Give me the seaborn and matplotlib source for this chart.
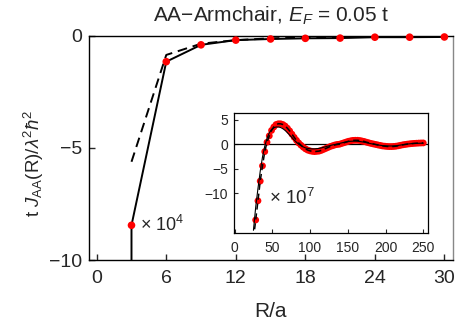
import numpy as np
import pandas as pd
import matplotlib
matplotlib.use("Agg")
import matplotlib.pyplot as plt
import seaborn as sns

# ---------------- data ----------------
# main panel (R/a)
main_x_pts = [3, 6, 9, 12, 15, 18, 21, 24, 27, 30]
main_y_pts = [-8.45, -1.16, -0.41, -0.20, -0.15, -0.12, -0.11, -0.07, -0.07, -0.06]
main_solid_x = [3, 3, 6, 9, 12, 15, 18, 21, 24, 27, 30]
main_solid_y = [-12.0, -8.45, -1.16, -0.41, -0.20, -0.15, -0.12, -0.11, -0.07, -0.07, -0.06]
main_dash_x = [3, 6, 9, 12, 15, 18, 21, 24, 27, 30]
main_dash_y = [-5.62, -0.86, -0.36, -0.20, -0.12, -0.09, -0.07, -0.05, -0.04, -0.02]

# inset (x 1e7)
inset_x = [25, 28, 31, 34, 37, 40, 43, 46, 49, 52, 55, 58, 61, 64, 67, 70, 73, 76, 79, 82,
           85, 88, 91, 94, 97, 100, 103, 106, 109, 112, 115, 118, 121, 124, 127, 130,
           133, 136, 139, 142, 145, 148, 151, 154, 157, 160, 163, 166, 169, 172, 175,
           178, 181, 184, 187, 190, 193, 196, 199, 202, 205, 208, 211, 214, 217, 220,
           223, 226, 229, 232, 235, 238, 241, 244, 247, 250]
inset_dash_y = [-19.3, -15.4, -11.5, -7.5, -4.4, -1.5, 0.4, 1.7, 2.8, 3.5, 4.0, 4.15, 4.15,
                4.0, 3.7, 3.25, 2.7, 2.05, 1.4, 0.8, 0.25, -0.2, -0.6, -0.95, -1.2, -1.35,
                -1.45, -1.5, -1.45, -1.4, -1.25, -1.05, -0.85, -0.65, -0.45, -0.3, -0.15,
                -0.05, 0.0, 0.15, 0.3, 0.45, 0.6, 0.7, 0.78, 0.8, 0.8, 0.75, 0.65, 0.55,
                0.4, 0.28, 0.15, 0.05, -0.05, -0.15, -0.25, -0.35, -0.4, -0.45, -0.48,
                -0.48, -0.45, -0.4, -0.32, -0.22, -0.12, -0.05, 0.02, 0.08, 0.13, 0.17,
                0.2, 0.23, 0.25, 0.26]
inset_solid_y = [-17.5, -12.8, -9.0, -5.5, -2.6, -0.4, 1.2, 2.3, 3.0, 3.35, 3.5, 3.5, 3.4,
                 3.15, 2.8, 2.35, 1.85, 1.35, 0.85, 0.4, 0.0, -0.3, -0.55, -0.75, -0.85,
                 -0.92, -0.95, -0.95, -0.9, -0.85, -0.75, -0.62, -0.5, -0.37, -0.25, -0.14,
                 -0.05, 0.05, 0.15, 0.27, 0.38, 0.47, 0.55, 0.6, 0.62, 0.62, 0.6, 0.55,
                 0.48, 0.4, 0.3, 0.2, 0.1, 0.02, -0.07, -0.15, -0.22, -0.28, -0.32, -0.35,
                 -0.36, -0.36, -0.34, -0.3, -0.24, -0.17, -0.1, -0.03, 0.03, 0.08, 0.12,
                 0.15, 0.17, 0.19, 0.2, 0.2]
inset_pts_x = inset_x[1:]
inset_pts_y = inset_dash_y[1:]

main_xticks = [0, 6, 12, 18, 24, 30]
main_yticks = [-10, -5, 0]
inset_xticks = [0, 50, 100, 150, 200, 250]
inset_yticks = [-10, -5, 0, 5]

# ---------------- style ----------------
sns.set_style("ticks")
plt.rcParams["font.family"] = ["Liberation Sans", "DejaVu Sans"]
plt.rcParams["mathtext.fontset"] = "custom"
plt.rcParams["mathtext.rm"] = "Liberation Sans"
plt.rcParams["mathtext.it"] = "Liberation Sans:italic"
plt.rcParams["mathtext.bf"] = "Liberation Sans:bold"

fig = plt.figure(figsize=(4.58, 3.33), dpi=100)
ax = fig.add_axes([0.195, 0.219, 0.793, 0.674])

d_ms = pd.DataFrame({"x": main_solid_x, "y": main_solid_y})
d_md = pd.DataFrame({"x": main_dash_x, "y": main_dash_y})
d_mp = pd.DataFrame({"x": main_x_pts, "y": main_y_pts})

sns.lineplot(data=d_ms, x="x", y="y", ax=ax, color="black", lw=1.4,
             estimator=None, sort=False, zorder=2)
sns.lineplot(data=d_md, x="x", y="y", ax=ax, color="black", lw=1.4,
             estimator=None, sort=False, linestyle=(0, (5, 3)), zorder=2)
sns.scatterplot(data=d_mp, x="x", y="y", ax=ax, color="red", s=30,
                edgecolor="none", zorder=3, clip_on=False)

ax.set_xlim(-0.64, 30.7)
ax.set_ylim(-10, 0)
ax.set_xticks(main_xticks)
ax.set_yticks(main_yticks)
ax.tick_params(direction="in", length=4, width=1, labelsize=14)
ax.tick_params(axis="x", pad=7)
ax.tick_params(axis="y", pad=5)
for s in ["left", "bottom", "top"]:
    ax.spines[s].set_color("black")
    ax.spines[s].set_linewidth(1.0)
ax.spines["right"].set_color("#888888")
ax.spines["right"].set_linewidth(1.0)
ax.set_xlabel("R/a", fontsize=15, labelpad=11)
ax.set_ylabel(r"t $J_{\mathrm{AA}}$(R)/$\lambda^2\hbar^2$", fontsize=13.5)
ax.yaxis.set_label_coords(-0.12, 0.43)
ax.set_title(r"AA$-$Armchair, $E_F$ = 0.05 t", fontsize=15, pad=10)
ax.text(3.7, -8.45, r"$\times$ 10$^{4}$", fontsize=13, va="center", ha="left")

# inset
ins = fig.add_axes([0.51, 0.301, 0.424, 0.359])
d_is = pd.DataFrame({"x": inset_x, "y": inset_solid_y})
d_id = pd.DataFrame({"x": inset_x, "y": inset_dash_y})
d_ip = pd.DataFrame({"x": inset_pts_x, "y": inset_pts_y})
ins.axhline(0, color="black", lw=0.9, zorder=1)
sns.scatterplot(data=d_ip, x="x", y="y", ax=ins, color="red", s=24,
                edgecolor="none", zorder=2)
sns.lineplot(data=d_is, x="x", y="y", ax=ins, color="black", lw=0.8,
             estimator=None, sort=False, zorder=3)
sns.lineplot(data=d_id, x="x", y="y", ax=ins, color="black", lw=1.1,
             estimator=None, sort=False, linestyle=(0, (4, 2.5)), zorder=4)
ins.set_xlim(-1.3, 256)
ins.set_ylim(-18, 6.3)
ins.set_xticks(inset_xticks)
ins.set_yticks(inset_yticks)
ins.tick_params(direction="in", length=3, width=0.8, labelsize=10)
ins.tick_params(axis="x", pad=6)
ins.tick_params(axis="y", pad=4)
for s in ins.spines.values():
    s.set_color("black")
    s.set_linewidth(0.9)
ins.set_xlabel("")
ins.set_ylabel("")
ins.text(46, -11, r"$\times$ 10$^{7}$", fontsize=13.5, va="center", ha="left")

fig.savefig("out.png", dpi=100)
